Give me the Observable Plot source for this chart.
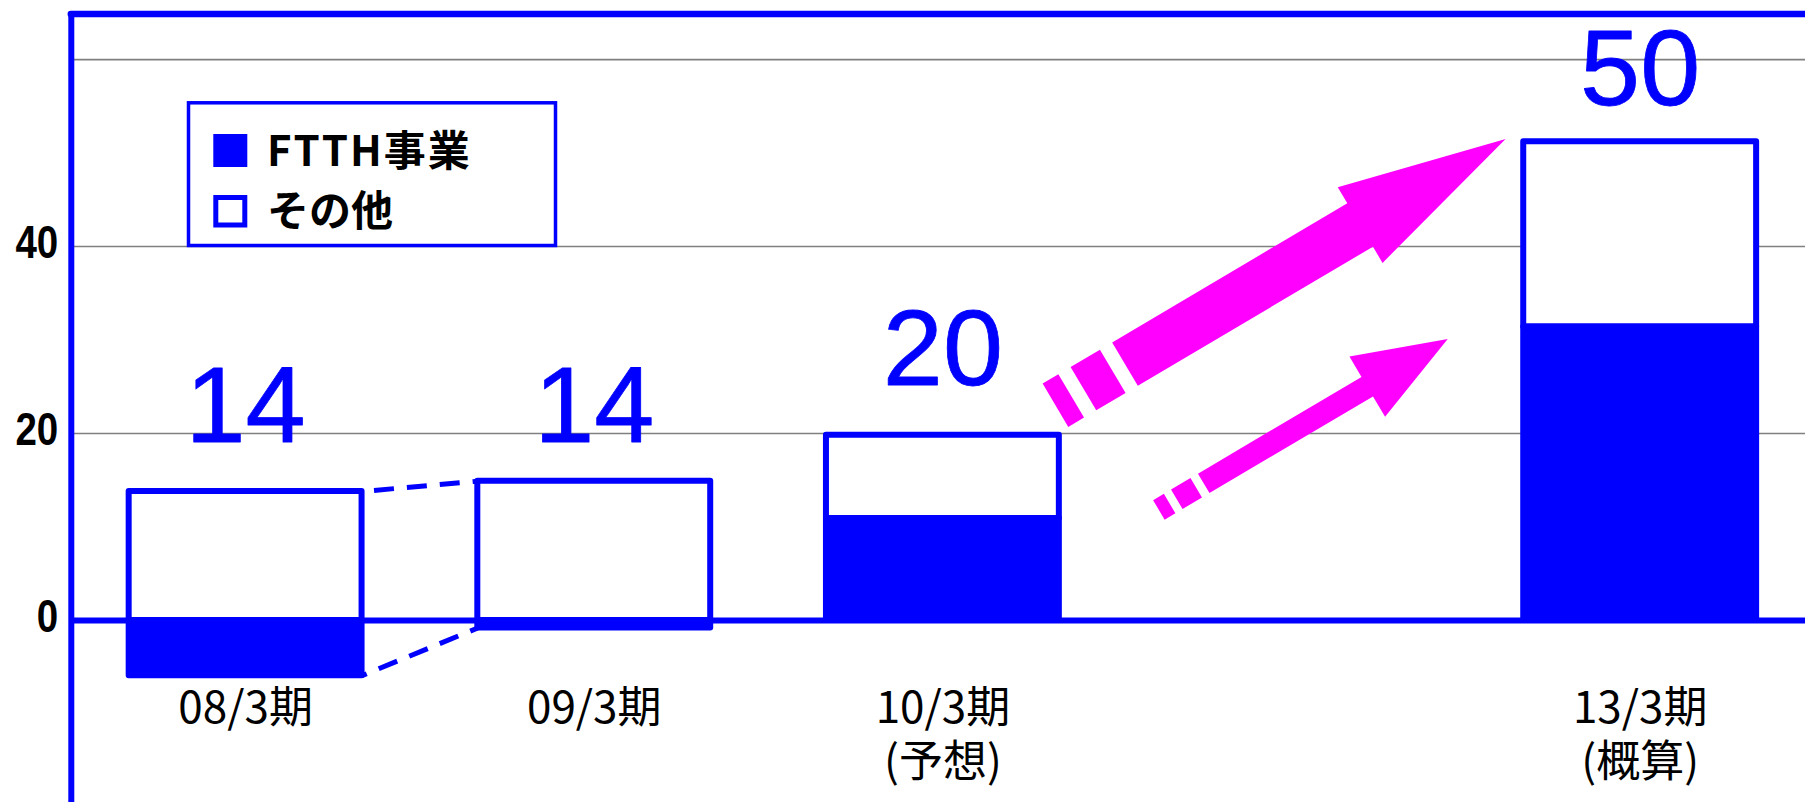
<!DOCTYPE html>
<html><head><meta charset="utf-8">
<script src="https://cdn.jsdelivr.net/npm/d3@7"></script>
<script src="https://cdn.jsdelivr.net/npm/@observablehq/plot@0.6"></script>
<style>
html,body{margin:0;padding:0;background:#fff;}
#wrap{position:relative;width:1805px;height:802px;overflow:hidden;background:#fff;}
#legend{position:absolute;left:0;top:0;pointer-events:none;}
</style></head><body>
<div id="wrap"></div>
<script>
// ---- data ----
const categories = ["08/3期", "09/3期", "10/3期", "13/3期"];
const subLabels  = ["", "", "(予想)", "(概算)"];
const slots      = [0, 1, 2, 4];            // slot 3 is left empty
const ftth       = [-5.9, -0.8, 10.9, 31.4]; // FTTH事業
const other      = [13.8, 14.9, 8.9, 19.8];  // その他
const totalLabels = [14, 14, 20, 50];
const yTicks = [0, 20, 40];
const yGrid  = [20, 40, 60];
const legendItems = ["FTTH事業", "その他"];
const arrowTips = [{x: 3.614, y: 51.5}, {x: 3.448, y: 30.1}];

// ---- style ----
const BLUE = "#0000ff", MAGENTA = "#ff00ff";
const SANS = "'Liberation Sans','Arimo',Arial,sans-serif";
const JP = "'Noto Sans CJK JP','Noto Sans',sans-serif";
const hw = 0.334;                // half bar width in slot units
const yMin = -19.47, yMax = 64.87;

const rows = categories.map((c, i) => {
  const base = Math.max(0, ftth[i]);
  return {cat: c, sub: subLabels[i], slot: slots[i], ftth: ftth[i], base, top: base + other[i], label: totalLabels[i]};
});

const seriesTop = [{x1: rows[0].slot + hw, y1: rows[0].top, x2: rows[1].slot - hw, y2: rows[1].top}];
const seriesBot = [{x1: rows[0].slot + hw, y1: rows[0].ftth, x2: rows[1].slot - hw, y2: rows[1].ftth}];

function blockArrow(g) {
  return {
    draw(ctx) {
      for (const [a0, a1] of g.pieces) {
        ctx.moveTo(-g.half, -a0); ctx.lineTo(g.half, -a0);
        ctx.lineTo(g.half, -a1); ctx.lineTo(-g.half, -a1); ctx.closePath();
      }
      ctx.moveTo(-g.half, -g.bodyStart);
      ctx.lineTo(g.half, -g.bodyStart);
      ctx.lineTo(g.half, -g.headBase);
      ctx.lineTo(g.headHalf, -g.headBase);
      ctx.lineTo(0, -g.len);
      ctx.lineTo(-g.headHalf, -g.headBase);
      ctx.lineTo(-g.half, -g.headBase);
      ctx.closePath();
    }
  };
}
const bigArrow = {len: 523, pieces: [[0, 18.3], [32.5, 66.6]], bodyStart: 80.8, headBase: 354, half: 25.2, headHalf: 44};
const smallArrow = {len: 335.6, pieces: [[0, 12.5], [20.8, 43.4]], bodyStart: 52.1, headBase: 242.1, half: 11.3, headHalf: 35};

const chart = Plot.plot({
  width: 1805, height: 802,
  marginLeft: 70.8, marginRight: 0, marginTop: 13.5, marginBottom: 0,
  style: {background: "white", fontFamily: JP},
  x: {type: "linear", domain: [-0.5, 4.5], range: [70.8, 1814], axis: null},
  y: {domain: [yMin, yMax]},
  marks: [
    Plot.gridY(yGrid, {stroke: "#808080", strokeOpacity: 1, strokeWidth: 1.7}),
    Plot.link(seriesTop, {x1: "x1", y1: "y1", x2: "x2", y2: "y2", stroke: BLUE, strokeWidth: 5, strokeDasharray: "20,13", strokeDashoffset: -12}),
    Plot.link(seriesBot, {x1: "x1", y1: "y1", x2: "x2", y2: "y2", stroke: BLUE, strokeWidth: 5, strokeDasharray: "20,13", strokeDashoffset: -18}),
    Plot.rect(rows, {x1: d => d.slot - hw, x2: d => d.slot + hw, y1: "base", y2: "top", fill: "white", stroke: BLUE, strokeWidth: 6, strokeLinejoin: "round"}),
    Plot.rect(rows, {x1: d => d.slot - hw, x2: d => d.slot + hw, y1: 0, y2: "ftth", fill: BLUE, stroke: BLUE, strokeWidth: 6, strokeLinejoin: "round"}),
    Plot.ruleY([0], {stroke: BLUE, strokeWidth: 6}),
    Plot.ruleX([-0.5], {stroke: BLUE, strokeWidth: 6}),
    Plot.ruleY([yMax], {stroke: BLUE, strokeWidth: 6.5, strokeLinecap: "round"}),
    Plot.vector([arrowTips[0]], {x: "x", y: "y", length: bigArrow.len, rotate: 59.4, anchor: "end", shape: blockArrow(bigArrow), fill: MAGENTA, stroke: "none"}),
    Plot.vector([arrowTips[1]], {x: "x", y: "y", length: smallArrow.len, rotate: 59.4, anchor: "end", shape: blockArrow(smallArrow), fill: MAGENTA, stroke: "none"}),
    Plot.text(rows, {x: "slot", y: "label", text: d => String(d.label), lineAnchor: "bottom", dy: -48, fontSize: 108, fill: BLUE, stroke: BLUE, strokeWidth: 0.8, fontFamily: SANS, ariaLabel: "value-label"}),
    Plot.text(rows, {x: "slot", y: 0, text: d => d.sub ? d.cat + "\n" + d.sub : d.cat, lineAnchor: "top", dy: 64, lineHeight: 1.23, fontSize: 44, fill: "black", fontFamily: JP, ariaLabel: "category-label"}),
    Plot.axisY({ticks: yTicks, tickSize: 0, tickPadding: 13, fontSize: 47, fontWeight: "bold", fontFamily: SANS, dy: -4, label: null, fill: "black"})
  ]
});
const wrap = document.getElementById("wrap");
wrap.appendChild(chart);

// narrow (condensed) look of the numeric labels, as in the reference
const condense = (sel, k) => sel.attr("transform", function () {
  return (this.getAttribute("transform") || "") + ` scale(${k},1)`;
});
condense(d3.select(chart).selectAll('g[aria-label="value-label"] text'), 0.8);
condense(d3.select(chart).selectAll('g[aria-label="y-axis tick label"] text'), 0.82);
d3.select(chart).selectAll('g[aria-label="category-label"]').style("letter-spacing", "2px");

// ---- legend (inside the plot area, as in the reference) ----
const lg = d3.select(wrap).append("svg").attr("id", "legend").attr("width", 1805).attr("height", 802);
lg.append("rect").attr("x", 188.5).attr("y", 102.8).attr("width", 367).attr("height", 142.7)
  .attr("fill", "white").attr("stroke", BLUE).attr("stroke-width", 3.5);
const rowsY = [166, 226];
legendItems.forEach((t, i) => {
  if (i === 0) lg.append("rect").attr("x", 213.3).attr("y", 134).attr("width", 34).attr("height", 33).attr("fill", BLUE);
  else lg.append("rect").attr("x", 215.8).attr("y", 197.5).attr("width", 29).attr("height", 27.5).attr("fill", "white").attr("stroke", BLUE).attr("stroke-width", 5);
  lg.append("text").attr("x", 267).attr("y", rowsY[i]).attr("font-size", 42).attr("font-weight", "bold")
    .attr("letter-spacing", i === 0 ? "2px" : "0px")
    .attr("font-family", JP).attr("fill", "black").text(t);
});
</script>
</body></html>
